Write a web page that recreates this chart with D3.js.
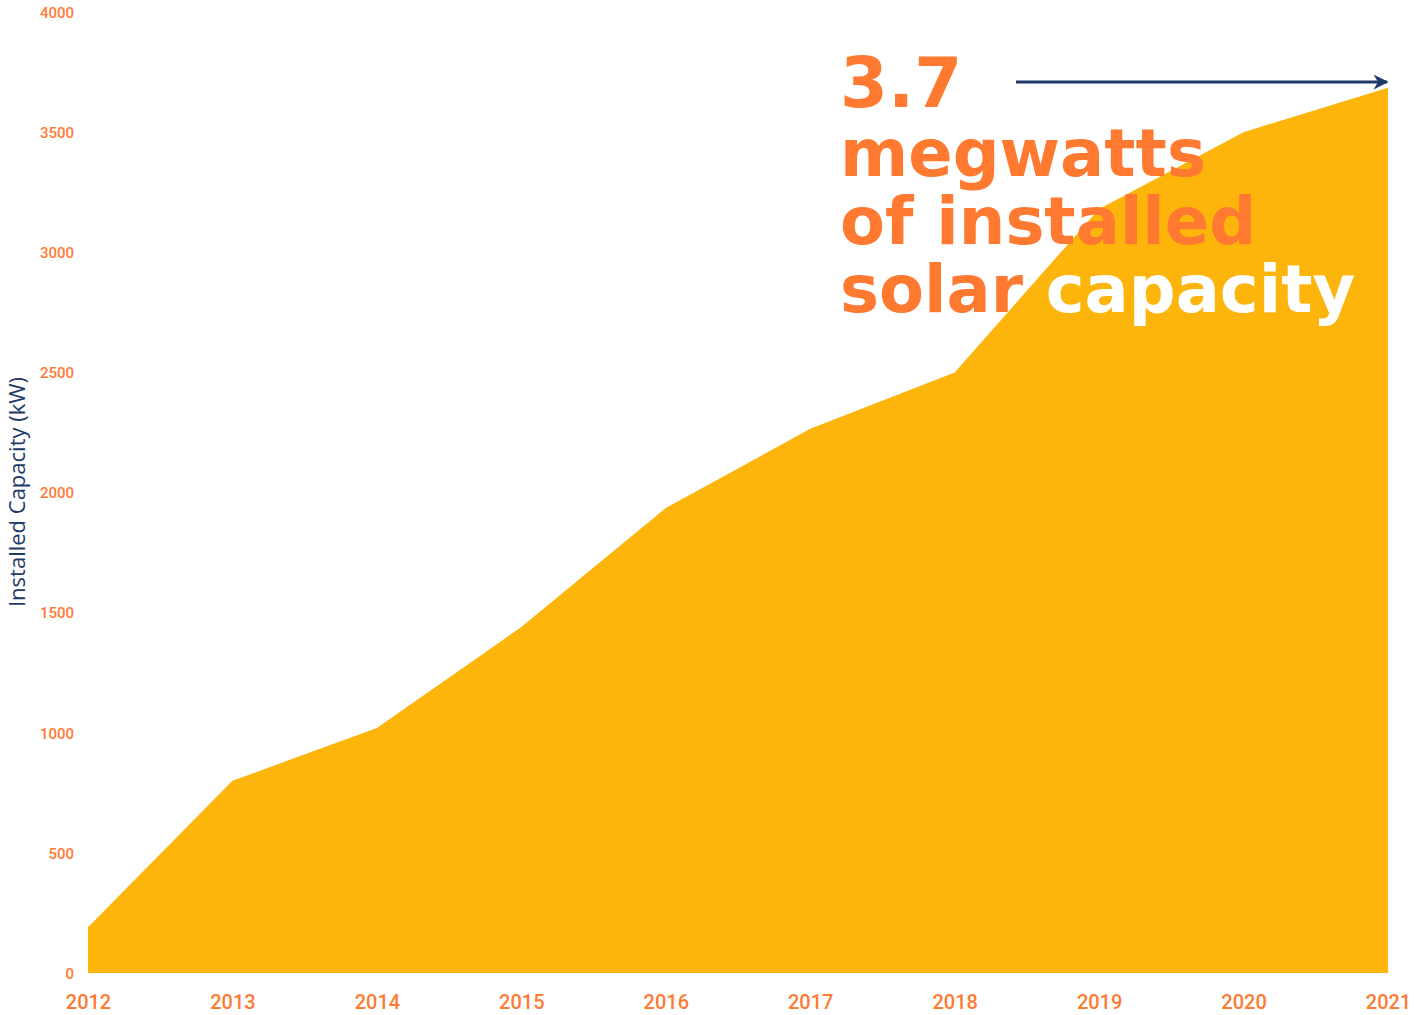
<!DOCTYPE html>
<html>
<head>
<meta charset="utf-8">
<script src="https://cdn.jsdelivr.net/npm/d3@7"></script>
<style>
  html, body { margin: 0; padding: 0; background: #ffffff; }
  svg { display: block; }
</style>
</head>
<body>
<svg id="chart" width="1414" height="1015"></svg>
<script>
const years = [2012, 2013, 2014, 2015, 2016, 2017, 2018, 2019, 2020, 2021];
const capacity = [190, 800, 1020, 1440, 1935, 2265, 2500, 3180, 3500, 3685];
const yTicks = [0, 500, 1000, 1500, 2000, 2500, 3000, 3500, 4000];
const yAxisTitle = "Installed Capacity (kW)";
const headlineLines = ["3.7", "megwatts", "of installed", "solar "];
const headlineWhite = "capacity";

const svg = d3.select("#chart");
const x = d3.scaleLinear().domain([2012, 2021]).range([88, 1388]);
const y = d3.scaleLinear().domain([0, 4000]).range([973, 12]);

const data = years.map((yr, i) => ({ yr, v: capacity[i] }));

const area = d3.area()
  .x(d => x(d.yr))
  .y0(y(0))
  .y1(d => y(d.v));

svg.append("path")
  .datum(data)
  .attr("d", area)
  .attr("fill", "#FDB50C");

// Y axis
const yAxis = d3.axisLeft(y).tickValues(yTicks).tickSize(0).tickPadding(0).tickFormat(d3.format("d"));
const gy = svg.append("g").attr("transform", "translate(74,0)").call(yAxis);
gy.select(".domain").remove();
gy.selectAll("text")
  .attr("fill", "#FF7A33")
  .attr("font-family", "Roboto, sans-serif")
  .attr("font-weight", 500)
  .attr("font-size", 15)
  .attr("dy", "0.35em");

// X axis
const xAxis = d3.axisBottom(x).tickValues(years).tickSize(0).tickPadding(0).tickFormat(d3.format("d"));
const gx = svg.append("g").attr("transform", "translate(0,995)").call(xAxis);
gx.select(".domain").remove();
gx.selectAll("text")
  .attr("fill", "#FF7A33")
  .attr("font-family", "Roboto, sans-serif")
  .attr("font-weight", 500)
  .attr("font-size", 20)
  .attr("dy", "0.71em");

// Y axis title
svg.append("text")
  .attr("transform", "translate(25,492) rotate(-90)")
  .attr("text-anchor", "middle")
  .attr("font-family", "'Open Sans', sans-serif")
  .attr("font-size", 22)
  .attr("fill", "#1F3A68")
  .text(yAxisTitle);

// Arrow
const defs = svg.append("defs");
defs.append("marker")
  .attr("id", "arrowhead")
  .attr("viewBox", "0 0 10 10")
  .attr("refX", 9).attr("refY", 5)
  .attr("markerWidth", 7).attr("markerHeight", 5)
  .attr("markerUnits", "strokeWidth")
  .attr("orient", "auto")
  .append("path")
  .attr("d", "M0,0 L10,5 L0,10 L3,5 Z")
  .attr("fill", "#1F3A68");

svg.append("line")
  .attr("x1", 1016).attr("y1", 82)
  .attr("x2", x(2021) - 1).attr("y2", 82)
  .attr("stroke", "#1F3A68")
  .attr("stroke-width", 3)
  .attr("marker-end", "url(#arrowhead)");

// Headline
const hl = svg.append("g").attr("font-family", "'DejaVu Sans', sans-serif")
  .attr("font-weight", "bold").attr("fill", "#FF7A30");
const baselines = [107, 176, 244, 312];
headlineLines.forEach((t, i) => {
  const txt = hl.append("text")
    .attr("x", 840).attr("y", baselines[i])
    .attr("font-size", i === 0 ? 69 : 65.5)
    .attr("xml:space", "preserve")
    .style("white-space", "pre");
  txt.append("tspan").text(t);
  if (i === 3) txt.append("tspan").attr("fill", "#ffffff").text(headlineWhite);
});
</script>
</body>
</html>
